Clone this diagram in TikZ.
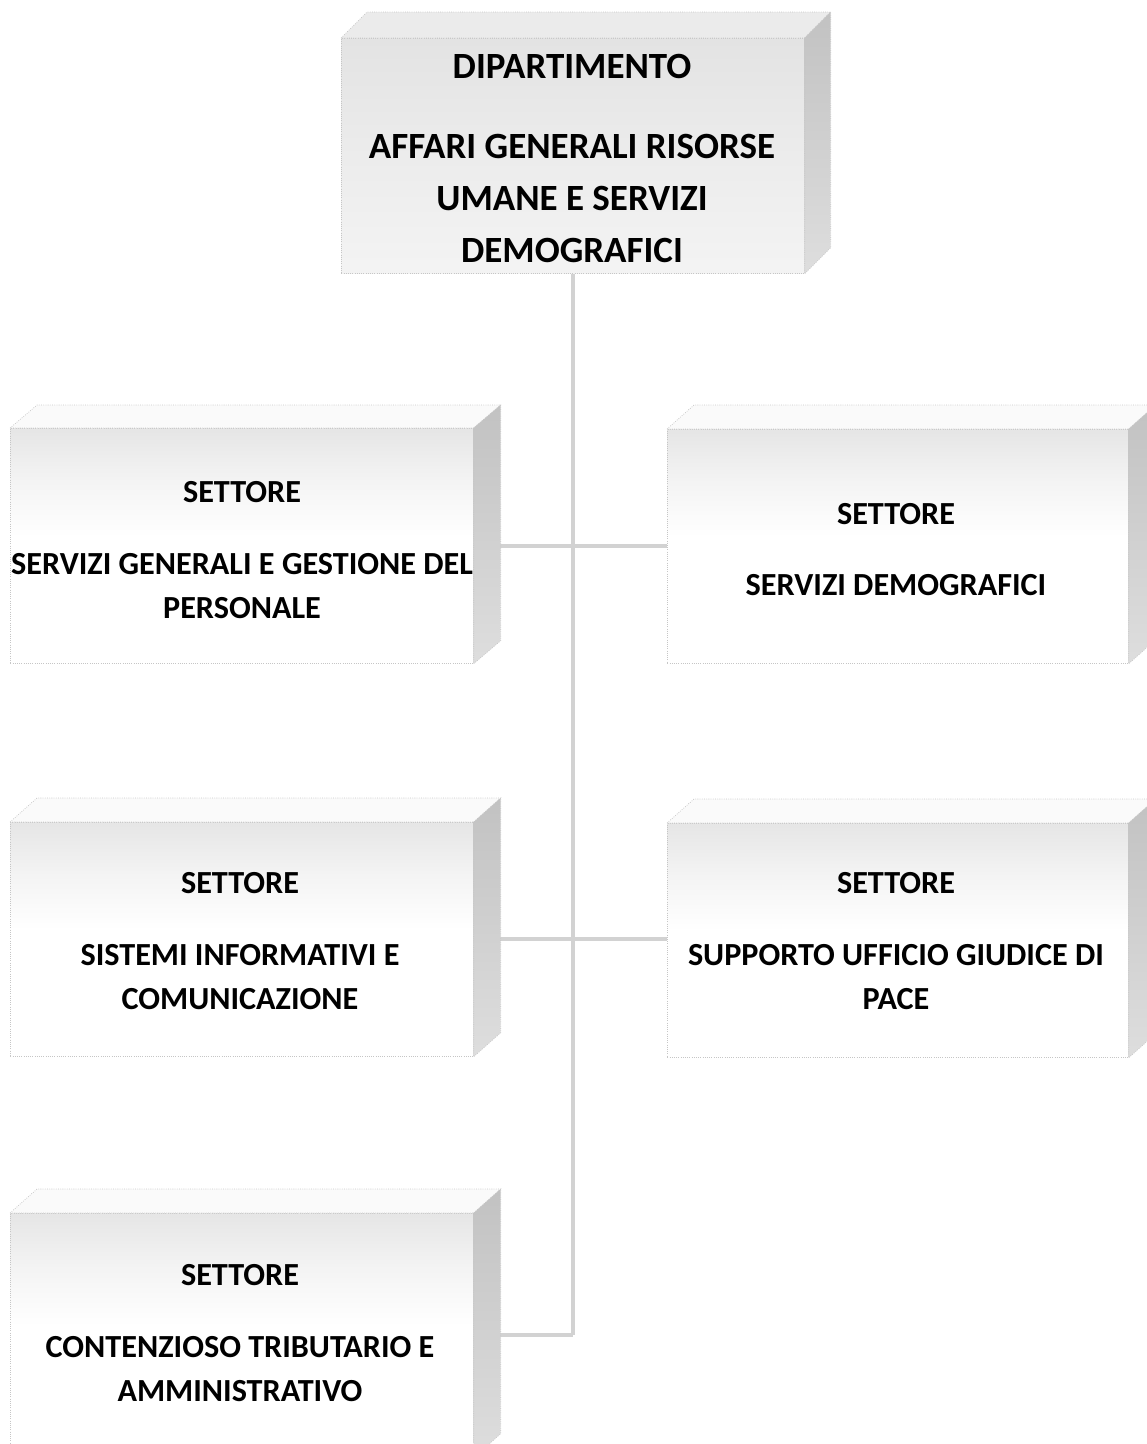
\documentclass[tikz,border=0pt]{standalone}
\usepackage{fontspec}
\setmainfont{Carlito}
\pgfdeclareverticalshading{settorefade}{100bp}{%
  color(0bp)=(white); color(25bp)=(white); color(52bp)=(white);
  color(64bp)=(gray!9); color(75bp)=(gray!20); color(100bp)=(gray!20)}
\pgfdeclareverticalshading{deptfade}{100bp}{%
  color(0bp)=(gray!9); color(25bp)=(gray!9); color(50bp)=(gray!15);
  color(75bp)=(gray!22); color(100bp)=(gray!22)}
\tikzset{
  x=1pt, y=-1pt,
  faceedge/.style={draw=gray!45, line width=0.7pt, dash pattern=on 0.8pt off 1.4pt},
  deptbox/.style={faceedge, shading=deptfade, anchor=north west, inner sep=0pt},
  settorebox/.style={faceedge, shading=settorefade, anchor=north west, inner sep=0pt,
    minimum width=463pt},
  topface/.style={faceedge, fill=#1},
  sideface/.style={faceedge, top color=gray!48, bottom color=gray!26},
  conn/.style={draw=gray!35, line width=4pt},
  depttext/.style={font=\fontsize{37}{44}\selectfont\bfseries, anchor=base, inner sep=0pt},
  settext/.style={font=\fontsize{32.2}{38}\selectfont\bfseries, anchor=base, inner sep=0pt},
}
% top and right faces of a box whose front face is node #1, depth (#2,#3)
\newcommand{\boxdepth}[4]{%
  \draw[topface=#4] (#1.north west) -- ++(#2,#3) -- ([shift={(#2,#3)}]#1.north east)
      -- (#1.north east) -- cycle;
  \draw[sideface] (#1.north east) -- ++(#2,#3) -- ([shift={(#2,#3)}]#1.south east)
      -- (#1.south east) -- cycle;
}
\begin{document}
\begin{tikzpicture}
\useasboundingbox (0,0) rectangle (1147,1444);
\clip (0,0) rectangle (1147,1444);

% front faces (named, used as connector ends)
\node[deptbox, minimum width=463pt, minimum height=235pt] (D) at (341,38) {};
\node[settorebox, minimum height=235pt] (L1) at (10,428) {};
\node[settorebox, minimum height=234pt, minimum width=461pt] (R1) at (667,429) {};
\node[settorebox, minimum height=234pt] (L2) at (10,822) {};
\node[settorebox, minimum height=234pt, minimum width=461pt] (R2) at (667,823) {};
\node[settorebox, minimum height=244pt] (L3) at (10,1213) {};

% connectors
\coordinate (trunkend) at (D.south |- L3.east);
\draw[conn] (D.south) -- (trunkend);
\draw[conn] (L1.east) -- (L1.east -| R1.west);
\draw[conn] (L2.east) -- (L2.east -| R2.west);
\draw[conn] (L3.east) -- (trunkend);

% front faces again, over the connector ends, then their depth
\node[deptbox, minimum width=463pt, minimum height=235pt] at (341,38) {};
\node[settorebox, minimum height=235pt] at (10,428) {};
\node[settorebox, minimum height=234pt, minimum width=461pt] at (667,429) {};
\node[settorebox, minimum height=234pt] at (10,822) {};
\node[settorebox, minimum height=234pt, minimum width=461pt] at (667,823) {};
\node[settorebox, minimum height=244pt] at (10,1213) {};

\boxdepth{D}{26}{-26}{gray!16}
\boxdepth{L1}{27}{-23}{gray!4}
\boxdepth{R1}{27}{-24}{gray!4}
\boxdepth{L2}{27}{-24}{gray!4}
\boxdepth{R2}{27}{-24}{gray!4}
\boxdepth{L3}{27}{-24}{gray!4}

% labels
\node[depttext] (d1) at (572,78) {DIPARTIMENTO};
\node[depttext] (d2) at (572,158) {AFFARI GENERALI RISORSE};
\node[depttext] (d3) at (572,210) {UMANE E SERVIZI};
\node[depttext] (d4) at (572,262) {DEMOGRAFICI};

\node[settext] (l1a) at (242,502) {SETTORE};
\node[settext] (l1b) at (242,574) {SERVIZI GENERALI E GESTIONE DEL};
\node[settext] (l1c) at (242,618) {PERSONALE};

\node[settext] (r1a) at (896,524) {SETTORE};
\node[settext] (r1b) at (896,595) {SERVIZI DEMOGRAFICI};

\node[settext] (l2a) at (240,893) {SETTORE};
\node[settext] (l2b) at (240,965) {SISTEMI INFORMATIVI E};
\node[settext] (l2c) at (240,1009) {COMUNICAZIONE};

\node[settext] (r2a) at (896,893) {SETTORE};
\node[settext] (r2b) at (896,965) {SUPPORTO UFFICIO GIUDICE DI};
\node[settext] (r2c) at (896,1009) {PACE};

\node[settext] (l3a) at (240,1285) {SETTORE};
\node[settext] (l3b) at (240,1357) {CONTENZIOSO TRIBUTARIO E};
\node[settext] (l3c) at (240,1401) {AMMINISTRATIVO};
\end{tikzpicture}
\end{document}
